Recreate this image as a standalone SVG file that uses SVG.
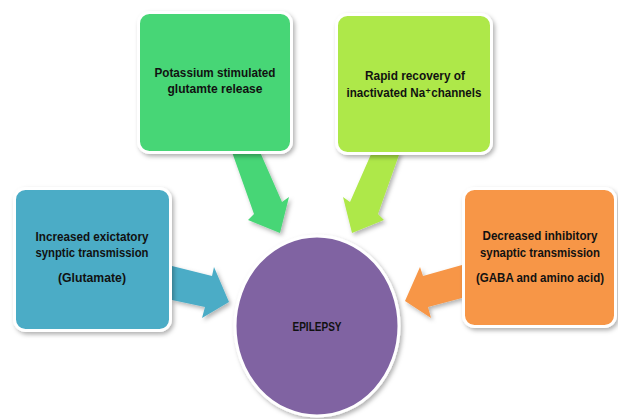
<svg xmlns="http://www.w3.org/2000/svg" width="618" height="419" viewBox="0 0 618 419">
<defs>
<filter id="sh" x="-20%" y="-20%" width="140%" height="140%">
<feDropShadow dx="2" dy="2.5" stdDeviation="2" flood-color="#000" flood-opacity="0.3"/>
</filter>
</defs>
<style>
.box{stroke:#fff;stroke-width:3;filter:url(#sh)}
.arr{filter:url(#sh)}
text{font-family:"Liberation Sans","DejaVu Sans",Arial,sans-serif;font-weight:bold;font-size:13px;fill:#111;text-anchor:middle}
</style>
<rect width="618" height="419" fill="#fff"/>
<g id="connectors">
<polygon class="arr" fill="#47D676" points="232,152 260,152 282,202 289,197 280,233 248,220 254,214"/>
<polygon class="arr" fill="#AEE84A" points="400,152 372,152 350,202 343,197 352,233 384,220 378,214"/>
<polygon class="arr" fill="#4BACC6" points="172,266 212,276 214,267 229,302 202,318 205,307 172,300"/>
<polygon class="arr" fill="#F79646" points="462,265 423,276 420,267 405,301 431,318 428,307 462,298"/>
</g>
<g id="epilepsy">
<ellipse class="box" cx="317" cy="326" rx="82" ry="90" fill="#8064A2"/>
<text x="317" y="331" textLength="49" lengthAdjust="spacingAndGlyphs">EPILEPSY</text>
</g>
<g id="potassium">
<rect class="box" x="138.5" y="12.5" width="153" height="140" rx="11" fill="#47D676"/>
<text x="215" y="77" textLength="121" lengthAdjust="spacingAndGlyphs">Potassium stimulated</text>
<text x="215" y="93" textLength="95" lengthAdjust="spacingAndGlyphs">glutamte release</text>
</g>
<g id="rapid">
<rect class="box" x="336.5" y="14.5" width="155" height="139" rx="11" fill="#AEE84A"/>
<text x="415" y="80" textLength="100" lengthAdjust="spacingAndGlyphs">Rapid recovery of</text>
<text x="414" y="97" textLength="135" lengthAdjust="spacingAndGlyphs">inactivated Na⁺channels</text>
</g>
<g id="increased">
<rect class="box" x="14.5" y="188.5" width="156" height="142" rx="11" fill="#4BACC6"/>
<text x="92" y="241" textLength="113" lengthAdjust="spacingAndGlyphs">Increased exictatory</text>
<text x="92" y="257" textLength="113" lengthAdjust="spacingAndGlyphs">synptic transmission</text>
<text x="92" y="282" textLength="68" lengthAdjust="spacingAndGlyphs">(Glutamate)</text>
</g>
<g id="decreased">
<rect class="box" x="463.5" y="188.5" width="152" height="138" rx="11" fill="#F79646"/>
<text x="540" y="240" textLength="115" lengthAdjust="spacingAndGlyphs">Decreased inhibitory</text>
<text x="540" y="257" textLength="120" lengthAdjust="spacingAndGlyphs">synaptic transmission</text>
<text x="540" y="282" font-size="12" textLength="128" lengthAdjust="spacingAndGlyphs">(GABA and amino acid)</text>
</g>
</svg>
